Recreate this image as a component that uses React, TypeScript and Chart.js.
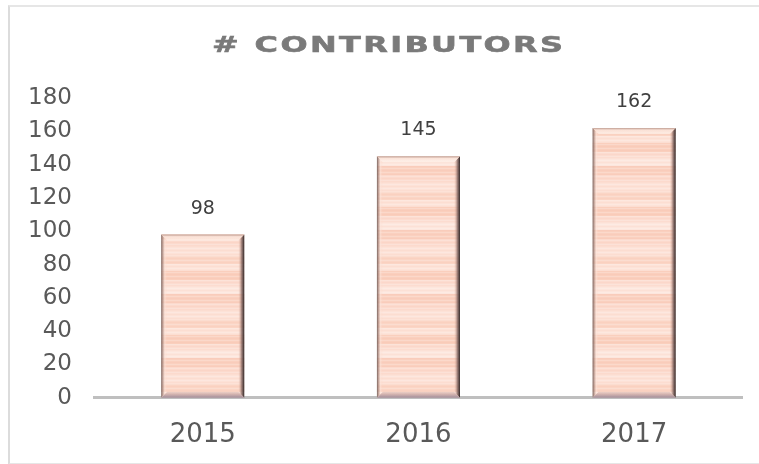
import React, { useEffect, useRef } from "react";
import { Chart, registerables } from "chart.js";

Chart.register(...registerables);

const categories = ["2015", "2016", "2017"];
const contributors = [98, 145, 162];
const yTicks = [0, 20, 40, 60, 80, 100, 120, 140, 160, 180];
const titleText = "# CONTRIBUTORS";

function makeStripePattern(ctx: CanvasRenderingContext2D): CanvasPattern | string {
  const c = document.createElement("canvas");
  c.width = 4;
  c.height = 64;
  const g = c.getContext("2d");
  if (!g) return "#fad3c3";
  const bands: [string, number][] = [
    ["#fbd5c5", 8],
    ["#fde3d8", 7],
    ["#facfbd", 9],
    ["#fcdcd0", 6],
    ["#fde6dd", 8],
    ["#fad0bf", 9],
    ["#fcdacd", 7],
    ["#fde2d7", 10],
  ];
  let y = 0;
  for (const [col, h] of bands) {
    g.fillStyle = col;
    g.fillRect(0, y, 4, h);
    y += h;
  }
  for (let i = 0; i < 64; i += 2) {
    g.fillStyle = i % 4 === 0 ? "rgba(255,255,255,0.2)" : "rgba(240,170,145,0.08)";
    g.fillRect(0, i, 4, 1);
  }
  const p = ctx.createPattern(c, "repeat");
  return p || "#fad3c3";
}

const bevelPlugin = {
  id: "bevel",
  afterDatasetsDraw(chart: any) {
    const ctx: CanvasRenderingContext2D = chart.ctx;
    const meta = chart.getDatasetMeta(0);
    meta.data.forEach((el: any) => {
      const { x, y, base, width } = el.getProps(["x", "y", "base", "width"], true);
      const l = x - width / 2;
      const r = x + width / 2;
      const t = y;
      const b = base;
      const bv = 6;
      ctx.save();
      let gr = ctx.createLinearGradient(l, 0, l + bv, 0);
      gr.addColorStop(0, "rgba(110,90,86,0.95)");
      gr.addColorStop(0.3, "rgba(170,135,125,0.6)");
      gr.addColorStop(0.6, "rgba(253,230,220,0.5)");
      gr.addColorStop(1, "rgba(250,210,195,0)");
      ctx.fillStyle = gr;
      ctx.beginPath();
      ctx.moveTo(l, t);
      ctx.lineTo(l + bv, t + bv);
      ctx.lineTo(l + bv, b - bv);
      ctx.lineTo(l, b);
      ctx.closePath();
      ctx.fill();
      gr = ctx.createLinearGradient(r, 0, r - bv, 0);
      gr.addColorStop(0, "rgba(45,35,35,1)");
      gr.addColorStop(0.45, "rgba(130,100,95,0.75)");
      gr.addColorStop(1, "rgba(240,190,170,0)");
      ctx.fillStyle = gr;
      ctx.beginPath();
      ctx.moveTo(r, t);
      ctx.lineTo(r - bv, t + bv);
      ctx.lineTo(r - bv, b - bv);
      ctx.lineTo(r, b);
      ctx.closePath();
      ctx.fill();
      gr = ctx.createLinearGradient(0, t, 0, t + bv);
      gr.addColorStop(0, "rgba(185,150,138,0.9)");
      gr.addColorStop(0.35, "rgba(250,228,218,0.85)");
      gr.addColorStop(1, "rgba(255,245,238,0.6)");
      ctx.fillStyle = gr;
      ctx.beginPath();
      ctx.moveTo(l, t);
      ctx.lineTo(r, t);
      ctx.lineTo(r - bv, t + bv);
      ctx.lineTo(l + bv, t + bv);
      ctx.closePath();
      ctx.fill();
      gr = ctx.createLinearGradient(0, b, 0, b - bv);
      gr.addColorStop(0, "rgba(150,130,145,0.95)");
      gr.addColorStop(1, "rgba(215,175,165,0.45)");
      ctx.fillStyle = gr;
      ctx.beginPath();
      ctx.moveTo(l, b);
      ctx.lineTo(r, b);
      ctx.lineTo(r - bv, b - bv);
      ctx.lineTo(l + bv, b - bv);
      ctx.closePath();
      ctx.fill();
      ctx.restore();
    });
  },
};

const valueLabelPlugin = {
  id: "valueLabels",
  afterDatasetsDraw(chart: any) {
    const ctx: CanvasRenderingContext2D = chart.ctx;
    const meta = chart.getDatasetMeta(0);
    const data = chart.data.datasets[0].data as number[];
    ctx.save();
    ctx.font = "19px 'DejaVu Sans', Verdana, sans-serif";
    ctx.fillStyle = "#404040";
    ctx.textAlign = "center";
    ctx.textBaseline = "middle";
    meta.data.forEach((el: any, i: number) => {
      const { x, y } = el.getProps(["x", "y"], true);
      ctx.fillText(String(data[i]), x, y - 26);
    });
    ctx.restore();
  },
};

const titlePlugin = {
  id: "spacedTitle",
  afterDraw(chart: any) {
    const ctx: any = chart.ctx;
    ctx.save();
    ctx.font = "bold 22px 'DejaVu Sans', Verdana, sans-serif";
    ctx.fillStyle = "#7a7a7a";
    ctx.strokeStyle = "#7a7a7a";
    ctx.lineWidth = 0.6;
    ctx.textAlign = "left";
    ctx.textBaseline = "middle";
    const sx = 1.45;
    const target = 351;
    const w0 = ctx.measureText(titleText).width;
    const spacing = Math.max(0, (target / sx - w0) / (titleText.length - 1));
    if ("letterSpacing" in ctx) ctx.letterSpacing = spacing + "px";
    ctx.translate(212, 46);
    ctx.scale(sx, 1);
    ctx.fillText(titleText, 0, 0);
    ctx.strokeText(titleText, 0, 0);
    ctx.restore();
  },
};

export default function App() {
  const ref = useRef<HTMLCanvasElement | null>(null);
  useEffect(() => {
    document.body.style.margin = "0";
    const canvas = ref.current;
    if (!canvas) return;
    const ctx = canvas.getContext("2d")!;
    const pattern = makeStripePattern(ctx);
    const chart = new Chart(canvas, {
      type: "bar",
      data: {
        labels: categories,
        datasets: [
          {
            data: contributors,
            backgroundColor: pattern as any,
            borderWidth: 0,
            categoryPercentage: 1,
            barPercentage: 0.385,
          },
        ],
      },
      options: {
        animation: false,
        responsive: false,
        devicePixelRatio: 1,
        layout: { padding: { top: 98, left: 5, right: 17, bottom: -9 } },
        plugins: {
          legend: { display: false },
          tooltip: { enabled: false },
          title: { display: false },
        },
        scales: {
          x: {
            grid: { display: false, drawTicks: false },
            border: { display: true, color: "#bfbfbf", width: 3 },
            ticks: {
              color: "#595959",
              padding: 22,
              font: { family: "'DejaVu Sans', Verdana, sans-serif", size: 26 },
            },
          },
          y: {
            min: 0,
            max: 180,
            afterBuildTicks: (axis: any) => {
              axis.ticks = yTicks.map((v) => ({ value: v }));
            },
            grid: { display: false, drawTicks: false },
            border: { display: false },
            ticks: {
              color: "#595959",
              padding: 23,
              font: { family: "'DejaVu Sans', Verdana, sans-serif", size: 23 },
            },
          },
        },
      },
      plugins: [bevelPlugin, valueLabelPlugin, titlePlugin],
    });
    return () => chart.destroy();
  }, []);
  return (
    <div style={{ position: "relative", width: 759, height: 464, background: "#ffffff" }}>
      <canvas ref={ref} width={759} height={464} style={{ position: "absolute", left: 0, top: 0 }} />
      <div
        style={{
          position: "absolute",
          left: 8,
          top: 5,
          width: 760,
          height: 456,
          borderLeft: "2px solid #dcdcdc",
          borderTop: "2px solid #e6e6e6",
          borderBottom: "2px solid #e6e6e6",
          pointerEvents: "none",
        }}
      />
    </div>
  );
}
